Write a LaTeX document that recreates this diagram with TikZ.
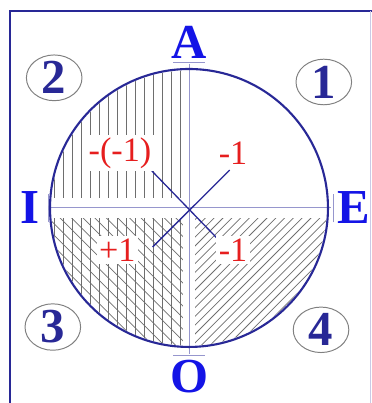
\documentclass[tikz,border=0pt]{standalone}
\usepackage{fontspec}
\setmainfont{Liberation Serif}
\usetikzlibrary{shapes.geometric}
\definecolor{navy}{RGB}{40,40,150}
\definecolor{axisblue}{RGB}{150,150,205}
\definecolor{letterblue}{RGB}{20,20,230}
\definecolor{hatchgray}{RGB}{110,110,110}
\definecolor{signred}{RGB}{230,30,30}
\begin{document}
\begin{tikzpicture}[
    vowel/.style={font=\fontsize{30}{30}\selectfont\bfseries, text=letterblue, inner sep=0pt},
    quadnum/.style={ellipse, draw=gray, line width=0.6pt, minimum width=1.2cm, minimum height=0.98cm, inner sep=0pt, font=\fontsize{30}{30}\selectfont\bfseries, text=navy},
    sign/.style={font=\fontsize{21}{21}\selectfont, text=signred, fill=white, inner sep=1.5pt},
    hatch/.style={hatchgray, line width=0.45pt},
    bar/.style={axisblue, line width=0.6pt}]
  \useasboundingbox (-4.08,-4.21) rectangle (3.95,4.49);

  % Frame
  \draw[navy, line width=1pt] (-3.86,-4.4) -- (-3.86,4.25) -- (4.1,4.25);
  \draw[axisblue!50, line width=0.6pt] (3.91,4.25) -- (3.91,-4.4);

  % Hatching
  \begin{scope}
    \clip (0,0) circle (2.97);
    % quadrant 2
    \begin{scope}
      \clip (-3,0.22) rectangle (-0.15,3);
      \foreach \i in {0,...,15} \draw[hatch] (-0.19-\i*0.194,0) -- ++(0,3);
    \end{scope}
    % quadrant 3
    \begin{scope}
      \clip (-3,-0.22) rectangle (-0.13,-3);
      \foreach \i in {0,...,15} \draw[hatch] (-0.19-\i*0.194,0) -- ++(0,-3);
      \foreach \c in {0,0.25,...,6} \draw[hatch] (0,-\c) -- ++(-3,3);
    \end{scope}
    % quadrant 4
    \begin{scope}
      \clip (0.13,-0.22) rectangle (3,-3);
      \foreach \c in {0,0.19,...,6} \draw[hatch] (0,-\c) -- ++(3,3);
    \end{scope}
  \end{scope}

  % Axes
  \draw[bar] (0,3.11) -- (0,-3.15);
  \draw[bar] (-2.98,0) -- (3.06,0);
  \draw[bar] (-0.345,3.15) -- (0.345,3.15);
  \draw[bar] (-0.345,-3.19) -- (0.345,-3.19);
  \draw[bar] (-3.04,-0.31) -- (-3.04,0.31);
  \draw[bar] (3.12,-0.31) -- (3.12,0.31);

  % Circle
  \draw[navy, line width=1.3pt] (0,0) circle (3);

  % Vowels
  \node[vowel] (A) at (0,3.58) {A};
  \node[vowel] (O) at (0,-3.65) {O};
  \node[vowel] (I) at (-3.43,0) {I};
  \node[vowel] (E) at (3.56,0) {E};

  % Quadrants
  \node[quadnum] (q1) at (2.91,2.72) {1};
  \node[quadnum] (q2) at (-2.91,2.81) {2};
  \node[quadnum] (q3) at (-2.94,-2.57) {3};
  \node[quadnum] (q4) at (2.85,-2.63) {4};

  % Cross
  \coordinate (NW) at (135:1.19);
  \coordinate (SE) at (-47:1.01);
  \coordinate (NE) at (43:1.2);
  \coordinate (SW) at (227:1.15);
  \draw[navy, line width=0.8pt] (NW) -- (SE);
  \draw[navy, line width=0.8pt] (NE) -- (SW);

  % Signs
  \node[sign] (s2) at (-1.49,1.19) {-(-1)};
  \node[sign] (s1) at (0.95,1.19) {-1};
  \node[sign] (s3) at (-1.55,-0.91) {+1};
  \node[sign] (s4) at (0.95,-0.91) {-1};
\end{tikzpicture}
\end{document}
